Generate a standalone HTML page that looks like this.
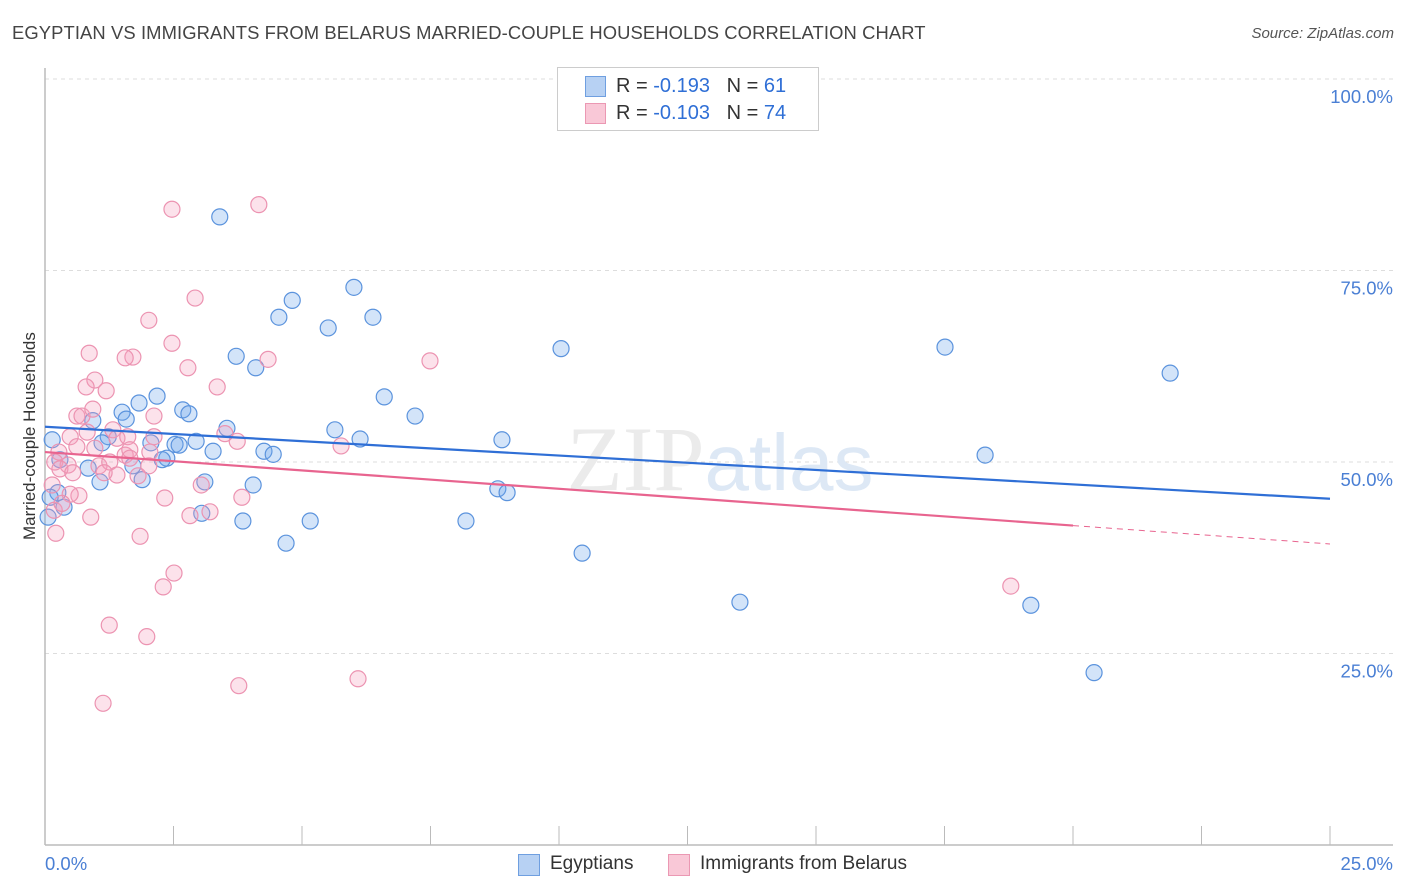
<!DOCTYPE html>
<html><head><meta charset="utf-8"><style>
body{margin:0;background:#fff;font-family:"Liberation Sans",sans-serif;}
#wrap{position:relative;width:1406px;height:892px;overflow:hidden;}
.t{position:absolute;white-space:nowrap;}
</style></head><body>
<div id="wrap">
<div class="t" style="left:12px;top:22px;font-size:18.4px;color:#444;letter-spacing:0.1px">EGYPTIAN VS IMMIGRANTS FROM BELARUS MARRIED-COUPLE HOUSEHOLDS CORRELATION CHART</div>
<div class="t" style="right:12px;top:25px;font-size:15px;color:#555;font-style:italic">Source: ZipAtlas.com</div>
<div class="t" style="left:-55px;top:445px;font-size:17px;color:#333;transform:rotate(-90deg);width:170px;text-align:center">Married-couple Households</div>
<svg id="svg" width="1406" height="892" style="position:absolute;left:0;top:0"></svg>
</div>
<script>
const xTicks=[0,2.5,5,7.5,10,12.5,15,17.5,20,22.5,25];
const yTicks=[25,50,75,100];
const yTickLabels=["25.0%","50.0%","75.0%","100.0%"];
const blueX=[3.40,6.01,4.81,4.55,6.38,5.51,10.04,17.51,3.72,4.10,21.89,2.18,6.60,1.83,2.68,1.50,2.80,7.20,1.58,0.93,3.54,5.64,1.23,1.11,6.13,8.89,2.06,2.53,2.94,3.27,4.26,4.44,2.61,2.37,2.28,18.29,0.84,1.71,1.89,1.07,3.11,4.05,8.81,8.99,0.25,0.10,0.37,0.06,3.85,5.16,8.19,3.05,4.69,10.45,13.52,19.18,20.41,0.29,0.14];
const blueY=[82.0,72.8,71.1,68.9,68.9,67.5,64.8,65.0,63.8,62.3,61.6,58.6,58.5,57.7,56.8,56.5,56.3,56.0,55.6,55.4,54.4,54.2,53.3,52.5,53.0,52.9,52.5,52.3,52.7,51.4,51.4,51.0,52.2,50.5,50.3,50.9,49.2,49.5,47.7,47.4,47.4,47.0,46.5,46.0,46.0,45.4,44.1,42.8,42.3,42.3,42.3,43.3,39.4,38.1,31.7,31.3,22.5,50.3,52.9];
const pinkX=[2.47,4.16,2.92,2.02,2.47,0.86,1.71,1.56,2.78,7.49,4.34,0.97,0.80,1.19,3.35,2.12,0.62,0.72,0.93,0.82,0.49,0.62,0.97,1.32,1.40,1.61,3.74,5.76,2.12,0.27,0.19,0.45,0.29,0.54,1.05,1.26,1.56,1.65,2.02,1.81,1.40,1.65,0.66,0.49,2.33,3.83,3.04,0.14,0.18,0.89,0.21,2.82,3.21,1.85,2.51,2.30,1.25,1.98,1.13,3.77,6.09,18.79,0.33,3.50,2.04,1.15];
const pinkY=[83.0,83.6,71.4,68.5,65.5,64.2,63.7,63.6,62.3,63.2,63.4,60.7,59.8,59.3,59.8,56.0,56.0,56.0,56.9,53.9,53.3,52.0,51.8,54.2,53.1,53.3,52.7,52.1,53.3,51.3,50.0,49.6,49.1,48.6,49.5,50.0,50.9,51.6,49.5,48.2,48.3,50.5,45.6,45.8,45.3,45.4,47.0,47.0,43.7,42.8,40.7,43.0,43.5,40.3,35.5,33.7,28.7,27.2,18.5,20.8,21.7,33.8,44.6,53.7,51.3,48.6];
const blueTrend=[54.6,45.2];
const pinkTrend=[51.3,39.3];
const pinkSolidEnd=20;

const X0=45,X1=1330,Y0=845,PX=7.66;
const sx=v=>X0+(v/25)*(X1-X0);
const sy=v=>Y0-v*PX;
const svg=document.getElementById('svg');
const NS='http://www.w3.org/2000/svg';
function mk(tag,attrs){const e=document.createElementNS(NS,tag);for(const k in attrs)e.setAttribute(k,attrs[k]);svg.appendChild(e);return e;}

yTicks.forEach((v,i)=>{
 const g=mk('line',{x1:X0,x2:1393,y1:sy(v),y2:sy(v),stroke:'#ddd','stroke-dasharray':'4,4'});
 
 
 const t=mk('text',{x:1393,y:sy(v)+24,'text-anchor':'end','font-size':18.5,fill:'#4a7fd4','font-family':'Liberation Sans, sans-serif'});
 t.textContent=yTickLabels[i];
 
 
});
const ax=mk('line',{x1:X0,x2:1393,y1:Y0,y2:Y0,stroke:'#bbb','stroke-width':1.5});


const ay=mk('line',{x1:X0,x2:X0,y1:68,y2:Y0,stroke:'#bbb','stroke-width':1.5});


xTicks.forEach(v=>{
 const l=mk('line',{x1:sx(v),x2:sx(v),y1:Y0-19,y2:Y0,stroke:'#bbb'});
 
 
});
const xl0=mk('text',{x:45,y:870,'font-size':18.5,fill:'#4a7fd4','font-family':'Liberation Sans, sans-serif'});xl0.textContent='0.0%';


const xl1=mk('text',{x:1393,y:870,'text-anchor':'end','font-size':18.5,fill:'#4a7fd4','font-family':'Liberation Sans, sans-serif'});xl1.textContent='25.0%';



const wm=mk('text',{x:720,y:490,'text-anchor':'middle','font-size':92,'font-family':'Liberation Serif, serif',fill:'#ebebeb'});
wm.innerHTML='ZIP<tspan font-family="Liberation Sans, sans-serif" fill="#dde8f5" font-size="80">atlas</tspan>';



blueX.forEach((v,i)=>{
 const c=mk('circle',{cx:sx(v),cy:sy(blueY[i]),r:8,fill:'rgba(110,165,235,0.3)',stroke:'#5b93dd','stroke-width':1.2});
 
 
});
pinkX.forEach((v,i)=>{
 const c=mk('circle',{cx:sx(v),cy:sy(pinkY[i]),r:8,fill:'rgba(245,160,190,0.3)',stroke:'#ec93b1','stroke-width':1.2});
 
 
});
const bt=mk('line',{x1:sx(0),y1:sy(blueTrend[0]),x2:sx(25),y2:sy(blueTrend[1]),stroke:'#2f6fd6','stroke-width':2.2});


const pAt=x=>pinkTrend[0]+(pinkTrend[1]-pinkTrend[0])*x/25;
const pt=mk('line',{x1:sx(0),y1:sy(pAt(0)),x2:sx(pinkSolidEnd),y2:sy(pAt(pinkSolidEnd)),stroke:'#e8648f','stroke-width':2.2});


const pd=mk('line',{x1:sx(pinkSolidEnd),y1:sy(pAt(pinkSolidEnd)),x2:sx(25),y2:sy(pAt(25)),stroke:'#e8648f','stroke-width':1,'stroke-dasharray':'6,5'});


</script>
<div style="position:absolute;left:557px;top:67px;width:260px;height:62px;border:1px solid #ccc;background:#fff;font-size:20px;color:#333">
 <div style="position:absolute;left:27px;top:8px;width:19px;height:19px;background:#b7d1f3;border:1px solid #6f9fe0"></div>
 <div class="t" style="left:58px;top:7px">R = <span style="color:#2f6fd6">-0.193</span>&nbsp;&nbsp;&nbsp;N = <span style="color:#2f6fd6">61</span></div>
 <div style="position:absolute;left:27px;top:35px;width:19px;height:19px;background:#f9c8d7;border:1px solid #eb98b3"></div>
 <div class="t" style="left:58px;top:34px">R = <span style="color:#2f6fd6">-0.103</span>&nbsp;&nbsp;&nbsp;N = <span style="color:#2f6fd6">74</span></div>
</div>
<div style="position:absolute;left:518px;top:853px;font-size:19px;color:#333">
 <div style="position:absolute;left:0;top:1px;width:20px;height:20px;background:#b7d1f3;border:1px solid #6f9fe0"></div>
 <div class="t" style="left:32px;top:0">Egyptians</div>
 <div style="position:absolute;left:150px;top:1px;width:20px;height:20px;background:#f9c8d7;border:1px solid #eb98b3"></div>
 <div class="t" style="left:182px;top:0">Immigrants from Belarus</div>
</div>
</body></html>
